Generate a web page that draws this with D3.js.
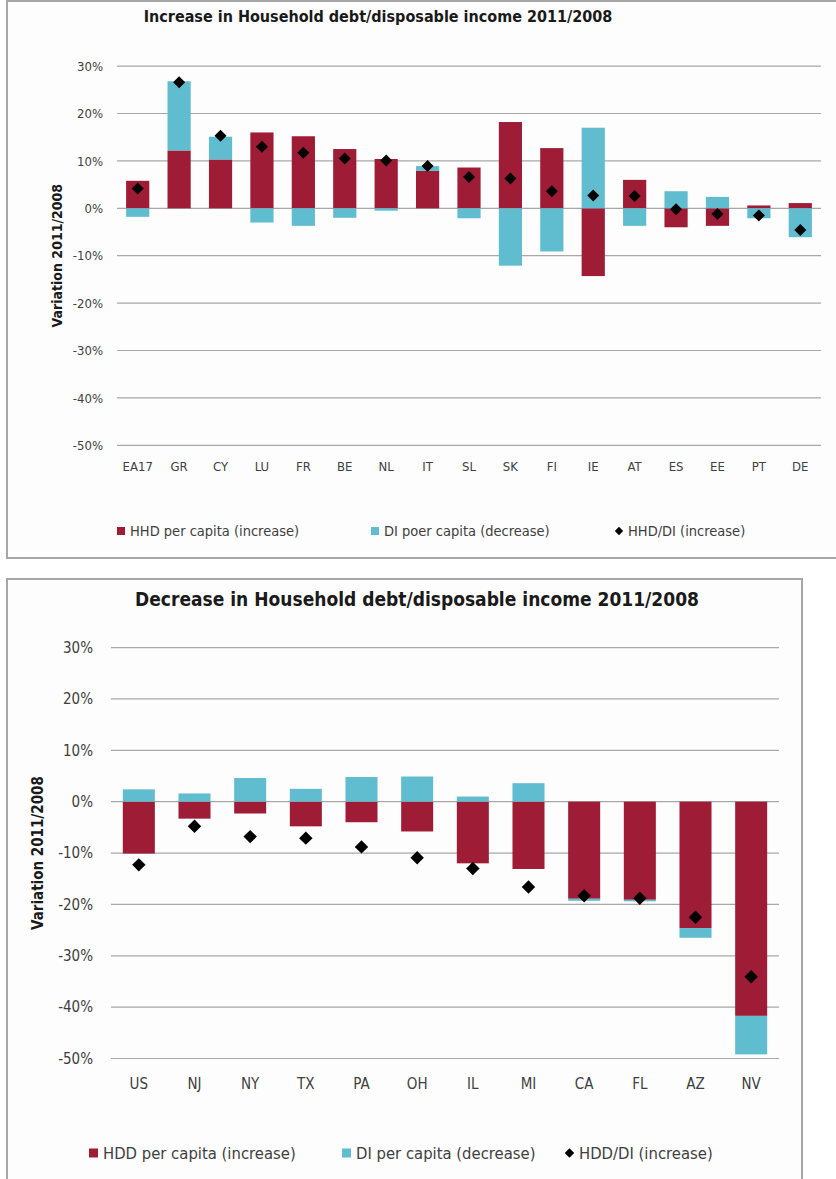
<!DOCTYPE html>
<html>
<head>
<meta charset="utf-8">
<script src="https://cdn.jsdelivr.net/npm/d3@7"></script>
<style>
  html, body { margin: 0; padding: 0; background: #ffffff; }
  svg { display: block; }
  text { font-family: "Liberation Sans Narrow", "Arial Narrow", "DejaVu Sans Condensed", sans-serif; fill: #404040; }
</style>
</head>
<body>
<svg id="chart" width="836" height="1179"></svg>
<script>
// ---------- DATA ----------
const yTicks = [30, 20, 10, 0, -10, -20, -30, -40, -50];

const topTitle = "Increase in Household debt/disposable income 2011/2008";
const topCategories = ["EA17", "GR", "CY", "LU", "FR", "BE", "NL", "IT", "SL", "SK", "FI", "IE", "AT", "ES", "EE", "PT", "DE"];
const topHHD   = [5.8, 12.2, 10.3, 16.0, 15.2, 12.5, 10.4, 7.9, 8.6, 18.2, 12.7, -14.3, 6.0, -4.0, -3.7, 0.6, 1.1];
const topDI    = [-1.8, 14.6, 4.8, -3.0, -3.7, -2.0, -0.5, 1.0, -2.1, -12.1, -9.1, 17.0, -3.7, 3.6, 2.4, -2.1, -6.1];
const topRatio = [4.2, 26.6, 15.3, 13.0, 11.7, 10.5, 10.1, 8.9, 6.6, 6.3, 3.6, 2.7, 2.6, -0.2, -1.2, -1.5, -4.6];
const topLegend = ["HHD per capita (increase)", "DI poer capita (decrease)", "HHD/DI (increase)"];

const botTitle = "Decrease in Household debt/disposable income 2011/2008";
const botCategories = ["US", "NJ", "NY", "TX", "PA", "OH", "IL", "MI", "CA", "FL", "AZ", "NV"];
const botHDD   = [-10.1, -3.3, -2.3, -4.8, -4.0, -5.8, -12.0, -13.1, -18.9, -19.1, -24.6, -41.7];
const botDI    = [2.4, 1.6, 4.6, 2.5, 4.8, 4.9, 1.0, 3.6, -0.4, -0.3, -1.9, -7.5];
const botRatio = [-12.3, -4.8, -6.8, -7.1, -8.8, -10.9, -13.0, -16.6, -18.3, -18.8, -22.5, -34.1];
const botLegend = ["HDD per capita (increase)", "DI per capita (decrease)", "HDD/DI (increase)"];

const yTitle = "Variation 2011/2008";

// ---------- STYLE ----------
const RED = "#9e1c35";
const CYAN = "#60bccf";
const GRID = "#a8a8a8";
const BORDER = "#a6a6a6";

const svg = d3.select("#chart");

function drawChart(cfg) {
  const g = svg.append("g");
  // box
  g.append("rect")
    .attr("x", cfg.box.x).attr("y", cfg.box.y)
    .attr("width", cfg.box.w).attr("height", cfg.box.h)
    .attr("fill", "#fdfdfd").attr("stroke", BORDER).attr("stroke-width", 2);

  const x = d3.scaleBand().domain(cfg.categories)
    .range([cfg.plot.x0, cfg.plot.x1])
    .paddingInner(cfg.pad).paddingOuter(cfg.pad / 2);
  const y = d3.scaleLinear().domain([-50, 30]).range([cfg.plot.yBottom, cfg.plot.yTop]);

  // gridlines
  g.append("g").selectAll("line").data(yTicks).join("line")
    .attr("x1", cfg.plot.x0).attr("x2", cfg.plot.x1)
    .attr("y1", d => y(d)).attr("y2", d => y(d))
    .attr("stroke", GRID).attr("stroke-width", 1.2);

  // y axis tick labels via d3 axis
  const yAxis = d3.axisLeft(y).tickValues(yTicks).tickSize(0).tickPadding(0)
    .tickFormat(d => d + "%");
  const ya = g.append("g").attr("transform", `translate(${cfg.tickRight},0)`).call(yAxis);
  ya.select(".domain").remove();
  ya.selectAll("text").style("font-size", cfg.tickFont + "px")
    .style("font-family", null).attr("fill", "#404040");

  // x axis labels via d3 axis
  const xAxis = d3.axisBottom(x).tickSize(0).tickPadding(0);
  const xa = g.append("g").attr("transform", `translate(0,${cfg.xLabelY})`).call(xAxis);
  xa.select(".domain").remove();
  xa.selectAll("text").style("font-size", cfg.tickFont + "px")
    .style("font-family", null).attr("fill", "#404040").attr("dy", "0");

  // stacked bars (diverging)
  const rows = cfg.categories.map((c, i) => ({ cat: c, a: cfg.seriesA[i], b: cfg.seriesB[i] }));
  const stack = d3.stack().keys(["a", "b"]).offset(d3.stackOffsetDiverging);
  const layers = stack(rows);
  const colors = { a: RED, b: CYAN };
  g.append("g").selectAll("g").data(layers).join("g")
    .attr("fill", d => colors[d.key])
    .selectAll("rect").data(d => d).join("rect")
    .attr("x", d => x(d.data.cat))
    .attr("width", x.bandwidth())
    .attr("y", d => y(Math.max(d[0], d[1])))
    .attr("height", d => Math.abs(y(d[0]) - y(d[1])));

  // diamonds
  const sym = d3.symbol().type(d3.symbolSquare).size(cfg.diamond * cfg.diamond);
  g.append("g").selectAll("path").data(cfg.ratio).join("path")
    .attr("d", sym)
    .attr("transform", (d, i) => `translate(${x(cfg.categories[i]) + x.bandwidth() / 2},${y(d)}) rotate(45)`)
    .attr("fill", "#000");

  // title
  g.append("text").text(cfg.title)
    .attr("x", cfg.titleX).attr("y", cfg.titleY)
    .attr("text-anchor", "middle")
    .style("font-size", cfg.titleFont + "px").style("font-weight", "bold").style("fill", "#1a1a1a");

  // y title
  g.append("text").text(yTitle)
    .attr("transform", `translate(${cfg.yTitleX},${(cfg.plot.yTop + cfg.plot.yBottom) / 2}) rotate(-90)`)
    .attr("text-anchor", "middle")
    .style("font-size", cfg.yTitleFont + "px").style("font-weight", "bold").style("fill", "#1a1a1a");

  // legend
  const lg = g.append("g");
  cfg.legend.forEach((label, i) => {
    const lx = cfg.legendX[i];
    const ly = cfg.legendY;
    if (i < 2) {
      lg.append("rect").attr("x", lx).attr("y", ly - cfg.legendSq / 2)
        .attr("width", cfg.legendSq).attr("height", cfg.legendSq)
        .attr("fill", i === 0 ? RED : CYAN);
    } else {
      lg.append("path").attr("d", d3.symbol().type(d3.symbolSquare).size(cfg.legendSq * cfg.legendSq * 0.55))
        .attr("transform", `translate(${lx + cfg.legendSq / 2},${ly}) rotate(45)`).attr("fill", "#000");
    }
    lg.append("text").text(label)
      .attr("x", lx + cfg.legendSq + 5).attr("y", ly).attr("dy", "0.35em")
      .style("font-size", cfg.legendFont + "px");
  });
}

drawChart({
  box: { x: 7, y: 1, w: 840, h: 557 },
  plot: { x0: 117, x1: 821, yTop: 66.1, yBottom: 445.3 },
  pad: 0.44,
  categories: topCategories, seriesA: topHHD, seriesB: topDI, ratio: topRatio,
  tickRight: 103, tickFont: 13,
  xLabelY: 471,
  diamond: 8.5,
  title: topTitle, titleX: 378, titleY: 22, titleFont: 16,
  yTitleX: 62, yTitleFont: 14,
  legend: topLegend, legendX: [117, 371, 615], legendY: 531, legendSq: 8, legendFont: 14.5
});

drawChart({
  box: { x: 7, y: 579, w: 795, h: 620 },
  plot: { x0: 111, x1: 779, yTop: 647.6, yBottom: 1058.5 },
  pad: 0.425,
  categories: botCategories, seriesA: botHDD, seriesB: botDI, ratio: botRatio,
  tickRight: 93, tickFont: 15,
  xLabelY: 1089,
  diamond: 9.5,
  title: botTitle, titleX: 417, titleY: 606, titleFont: 19,
  yTitleX: 43, yTitleFont: 15,
  legend: botLegend, legendX: [89, 342, 565], legendY: 1153, legendSq: 9, legendFont: 16.5
});
</script>
</body>
</html>
